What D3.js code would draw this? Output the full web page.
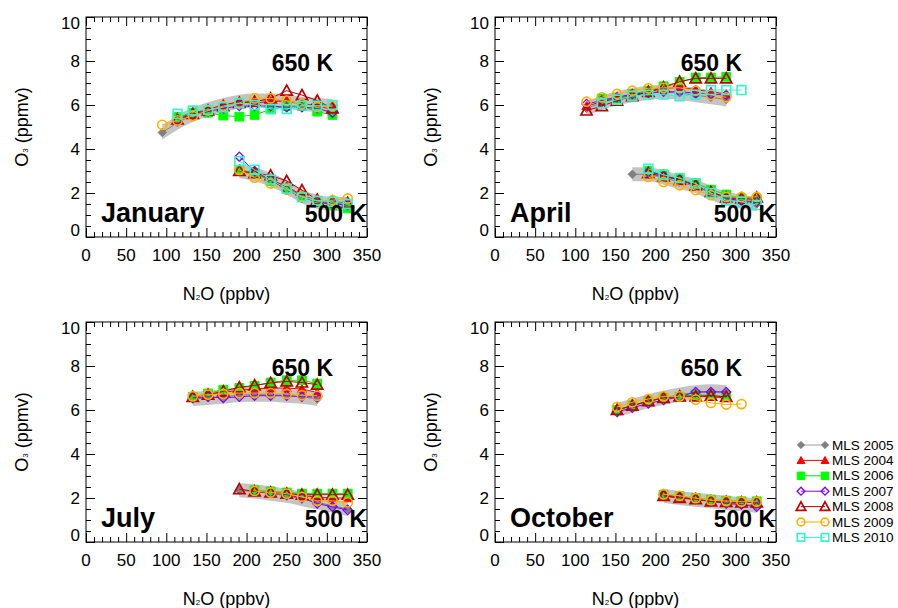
<!DOCTYPE html>
<html><head><meta charset="utf-8">
<script src="https://cdn.jsdelivr.net/npm/d3@7/dist/d3.min.js"></script>
<style>
body{margin:0;background:#fff}
svg{display:block}
text{font-family:"Liberation Sans",Arial,Helvetica,sans-serif;fill:#000}
</style>
</head><body><svg id="chart" width="898" height="608"></svg>
<script>
// ---------- data ----------
const _ = null;
const n2oBins = [95, 114, 133, 152, 171, 191, 210, 230, 250, 269, 288, 307, 326];
const seriesNames = ["MLS 2005", "MLS 2004", "MLS 2006", "MLS 2007", "MLS 2008", "MLS 2009", "MLS 2010"];
const monthNames = ["January", "April", "July", "October"];
const levelNames = ["650 K", "500 K"];
const xTickValues = [0, 50, 100, 150, 200, 250, 300, 350];
const yTickValues = [0, 2, 4, 6, 8, 10];

// rows follow seriesNames order; columns follow n2oBins
const jan650 = [
  [4.75, 5.2, 5.55, 5.8, 6.0, 6.15, 6.2, 6.2, 6.15, 6.05, 6.0, 5.95, _],
  [_, 5.4, 5.65, 5.8, 6.0, 6.15, 6.1, 6.15, 6.2, 6.05, 5.95, 5.8, _],
  [_, 5.45, 5.65, 5.65, 5.52, 5.47, 5.55, 5.8, 5.95, 5.95, 5.7, 5.55, _],
  [_, 5.3, 5.55, 5.7, 5.85, 5.95, 5.95, 5.95, 5.9, 5.9, 5.85, 5.65, _],
  [_, 5.35, 5.6, 5.75, 5.95, 6.1, 6.15, 6.3, 6.65, 6.45, 6.2, 5.85, _],
  [5.1, 5.3, 5.5, 5.75, 5.95, 6.1, 6.3, 6.3, 6.2, 6.05, 5.9, 5.95, _],
  [_, 5.6, 5.75, 5.78, 5.9, 6.08, 6.0, 5.82, 5.82, 5.97, 5.97, 6.0, _]
];
const jan500 = [
  [_, _, _, _, _, 3.0, 2.85, 2.6, 2.25, 1.85, 1.6, 1.5, 1.5],
  [_, _, _, _, _, 3.05, 2.9, 2.6, 2.3, 1.9, 1.65, 1.55, 1.45],
  [_, _, _, _, _, 3.05, 2.9, 2.55, 2.2, 1.85, 1.6, 1.45, 1.3],
  [_, _, _, _, _, 3.65, 3.0, 2.6, 2.15, 1.8, 1.6, 1.5, 1.45],
  [_, _, _, _, _, 3.0, 2.9, 2.8, 2.55, 2.13, 1.7, 1.6, 1.55],
  [_, _, _, _, _, 3.05, 2.7, 2.43, 2.15, 1.85, 1.65, 1.67, 1.75],
  [_, _, _, _, _, 3.45, 3.06, 2.61, 2.2, 1.8, 1.64, 1.6, 1.5]
];
const apr650 = [
  [_, 5.85, 6.1, 6.3, 6.45, 6.55, 6.6, 6.55, 6.45, 6.35, 6.25, _, _],
  [_, 5.95, 6.15, 6.3, 6.45, 6.6, 6.75, 6.8, 6.7, 6.6, 6.5, _, _],
  [_, _, 6.3, 6.3, 6.5, 6.65, 6.85, 7.05, 7.25, 7.25, 7.28, _, _],
  [_, 6.05, 6.2, 6.35, 6.5, 6.55, 6.6, 6.6, 6.55, 6.5, 6.45, _, _],
  [_, 5.75, 5.95, 6.2, 6.4, 6.6, 6.8, 7.06, 7.21, 7.21, 7.21, _, _],
  [_, 6.15, 6.35, 6.5, 6.65, 6.76, 6.78, 6.78, 6.65, 6.46, 6.35, _, _],
  [_, _, 6.08, 6.24, 6.4, 6.47, 6.47, 6.4, 6.47, 6.68, 6.68, 6.68, _]
];
const apr500 = [
  [_, _, _, _, 2.85, 2.85, 2.7, 2.5, 2.3, 2.0, 1.75, 1.6, 1.5],
  [_, _, _, _, _, 3.0, 2.8, 2.6, 2.35, 2.05, 1.8, 1.7, 1.7],
  [_, _, _, _, _, 3.0, 2.85, 2.65, 2.45, 2.15, 1.93, 1.75, 1.7],
  [_, _, _, _, _, 2.95, 2.8, 2.6, 2.35, 2.05, 1.75, 1.65, 1.6],
  [_, _, _, _, _, 2.9, 2.75, 2.6, 2.35, 2.05, 1.8, 1.75, 1.8],
  [_, _, _, _, _, 2.73, 2.5, 2.35, 2.13, 1.9, 1.82, 1.82, 1.82],
  [_, _, _, _, _, 3.1, 2.82, 2.68, 2.43, 2.0, 1.67, 1.6, 1.45]
];
const jul650 = [
  [_, _, 6.5, 6.55, 6.6, 6.68, 6.7, 6.7, 6.65, 6.6, 6.5, _, _],
  [_, _, 6.6, 6.7, 6.8, 6.9, 6.95, 7.0, 7.0, 6.95, 6.8, _, _],
  [_, _, 6.6, 6.75, 6.92, 7.0, 7.1, 7.25, 7.35, 7.35, 7.2, _, _],
  [_, _, 6.55, 6.6, 6.55, 6.6, 6.65, 6.65, 6.65, 6.6, 6.6, _, _],
  [_, _, 6.6, 6.7, 6.85, 7.03, 7.12, 7.23, 7.3, 7.25, 7.15, _, _],
  [_, _, 6.62, 6.7, 6.73, 6.77, 6.77, 6.77, 6.73, 6.67, 6.65, _, _],
  [_, _, _, _, _, _, _, _, _, _, _, _, _]
];
const jul500 = [
  [_, _, _, _, _, 2.35, 2.3, 2.2, 2.1, 1.95, 1.8, 1.65, 1.5],
  [_, _, _, _, _, _, 2.3, 2.25, 2.2, 2.1, 2.05, 2.0, 2.0],
  [_, _, _, _, _, _, 2.35, 2.3, 2.25, 2.2, 2.2, 2.2, 2.2],
  [_, _, _, _, _, _, 2.3, 2.25, 2.15, 2.0, 1.75, 1.6, 1.45],
  [_, _, _, _, _, 2.4, 2.3, 2.25, 2.2, 2.15, 2.15, 2.15, 2.15],
  [_, _, _, _, _, _, 2.32, 2.25, 2.2, 2.05, 1.87, 1.87, 1.8],
  [_, _, _, _, _, _, _, _, _, _, _, _, _]
];
const oct650 = [
  [_, _, _, 6.0, 6.2, 6.4, 6.55, 6.7, 6.8, 6.85, 6.8, _, _],
  [_, _, _, 6.0, 6.2, 6.4, 6.55, 6.6, 6.65, 6.6, 6.55, _, _],
  [_, _, _, 6.0, 6.2, 6.4, 6.55, 6.6, 6.7, 6.65, 6.6, _, _],
  [_, _, _, 5.91, 6.1, 6.3, 6.45, 6.6, 6.82, 6.82, 6.82, _, _],
  [_, _, _, 6.0, 6.2, 6.4, 6.55, 6.62, 6.62, 6.65, 6.6, _, _],
  [_, _, _, 6.14, 6.35, 6.5, 6.62, 6.62, 6.47, 6.32, 6.25, 6.27, _],
  [_, _, _, _, _, _, _, _, _, _, _, _, _]
];
const oct500 = [
  [_, _, _, _, _, _, 2.1, 2.0, 1.92, 1.85, 1.78, 1.72, 1.65],
  [_, _, _, _, _, _, 2.1, 2.0, 1.95, 1.85, 1.82, 1.8, 1.8],
  [_, _, _, _, _, _, 2.15, 2.08, 2.0, 1.92, 1.88, 1.85, 1.85],
  [_, _, _, _, _, _, 2.15, 2.05, 1.95, 1.85, 1.75, 1.7, 1.6],
  [_, _, _, _, _, _, 2.1, 2.0, 1.95, 1.85, 1.82, 1.8, 1.8],
  [_, _, _, _, _, _, 2.17, 2.1, 1.99, 1.9, 1.86, 1.83, 1.83],
  [_, _, _, _, _, _, _, _, _, _, _, _, _]
];

// ---------- styles ----------
const seriesStyle = [
  {shape: "diamond",  color: "#808080", line: "#a0a0a0", fill: true,  s: 4.2, sw: 1},
  {shape: "triangle", color: "#ff0000", line: "#ff0000", fill: true,  s: 4.6, sw: 1},
  {shape: "square",   color: "#00ff00", line: "#00e000", fill: true,  s: 4.4, sw: 1},
  {shape: "diamond",  color: "#8000ff", line: "#8000ff", fill: false, s: 4.6, sw: 1.3},
  {shape: "triangle", color: "#c00000", line: "#c00000", fill: false, s: 5.6, sw: 1.7},
  {shape: "circle",   color: "#ffb000", line: "#ffb000", fill: false, s: 4.6, sw: 1.6},
  {shape: "square",   color: "#33f5d0", line: "#33f5d0", fill: false, s: 4.4, sw: 1.6}
];

function markerPath(shape, s) {
  switch (shape) {
    case "diamond": return `M0,${-s}L${s},0L0,${s}L${-s},0Z`;
    case "triangle": return `M0,${-s}L${s},${s * 0.8}L${-s},${s * 0.8}Z`;
    case "square": return `M${-s},${-s}H${s}V${s}H${-s}Z`;
    default: return `M${s},0A${s},${s} 0 1 1 ${-s},0A${s},${s} 0 1 1 ${s},0Z`;
  }
}

const panelData = [
  [jan650, jan500], [apr650, apr500], [jul650, jul500], [oct650, oct500]
];
const panelBox = [
  {x0: 86, x1: 367, y0: 17, y1: 237},
  {x0: 495, x1: 776, y0: 17, y1: 237},
  {x0: 86, x1: 367, y0: 322, y1: 542},
  {x0: 495, x1: 776, y0: 322, y1: 542}
];

const svg = d3.select("#chart");

panelBox.forEach((b, pi) => {
  const x = d3.scaleLinear().domain([0, 350]).range([b.x0, b.x1]);
  const y = d3.scaleLinear().domain([0, 10]).range([b.y1, b.y0]);
  const g = svg.append("g");

  // gray band (2005 envelope) under everything
  const line = d3.line().defined(d => d[1] != null).x(d => x(d[0])).y(d => y(d[1]));
  panelData[pi].forEach(level => {
    const pts = n2oBins.map((n, i) => [n, level[0][i]]).filter(d => d[1] != null);
    const band = d3.area().curve(d3.curveMonotoneX)
      .x(d => x(d[0])).y0(d => y(d[1] - 0.32)).y1(d => y(d[1] + 0.32));
    g.append("path").attr("d", band(pts)).attr("fill", "#c4c4c4").attr("stroke", "none");
  });

  // series
  panelData[pi].forEach(level => {
    level.forEach((row, si) => {
      const st = seriesStyle[si];
      const pts = n2oBins.map((n, i) => [n, row[i]]).filter(d => d[1] != null);
      if (!pts.length) return;
      g.append("path").attr("d", line(pts)).attr("fill", "none")
        .attr("stroke", si === 0 ? "#808080" : st.line).attr("stroke-width", 1);
      g.selectAll(null).data(pts).enter().append("path")
        .attr("transform", d => `translate(${x(d[0])},${y(d[1])})`)
        .attr("d", markerPath(st.shape, st.s))
        .attr("fill", st.fill ? st.color : "none")
        .attr("stroke", st.color)
        .attr("stroke-width", st.sw);
    });
  });

  // axes (IDL style: ticks inside on all four sides)
  const bottom = d3.axisBottom(x).tickValues(xTickValues).tickSize(-9).tickFormat("");
  const top = d3.axisTop(x).tickValues(xTickValues).tickSize(-9).tickFormat("");
  const xMinor = d3.range(0, 351, 10).filter(v => v % 50 !== 0);
  const bottomMinor = d3.axisBottom(x).tickValues(xMinor).tickSize(-5).tickFormat("");
  const topMinor = d3.axisTop(x).tickValues(xMinor).tickSize(-5).tickFormat("");
  const left = d3.axisLeft(y).tickValues(yTickValues).tickSize(-9).tickFormat("");
  const right = d3.axisRight(y).tickValues(yTickValues).tickSize(-9).tickFormat("");
  const yMinor = d3.range(0, 10.01, 0.5).filter(v => v % 2 !== 0);
  const leftMinor = d3.axisLeft(y).tickValues(yMinor).tickSize(-5).tickFormat("");
  const rightMinor = d3.axisRight(y).tickValues(yMinor).tickSize(-5).tickFormat("");

  const ax = (gen, tr) => {
    const a = g.append("g").attr("transform", tr).call(gen);
    a.select(".domain").remove();
    a.selectAll("line").attr("stroke", "#000").attr("stroke-width", 1);
    return a;
  };
  ax(bottom, `translate(0,${b.y1})`); ax(bottomMinor, `translate(0,${b.y1})`);
  ax(top, `translate(0,${b.y0})`); ax(topMinor, `translate(0,${b.y0})`);
  ax(left, `translate(${b.x0},0)`); ax(leftMinor, `translate(${b.x0},0)`);
  ax(right, `translate(${b.x1},0)`); ax(rightMinor, `translate(${b.x1},0)`);

  g.append("rect").attr("x", b.x0).attr("y", b.y0)
    .attr("width", b.x1 - b.x0).attr("height", b.y1 - b.y0)
    .attr("fill", "none").attr("stroke", "#000").attr("stroke-width", 1);

  // tick labels
  g.selectAll(null).data(xTickValues).enter().append("text")
    .attr("x", d => x(d)).attr("y", b.y1 + 24)
    .attr("text-anchor", "middle").attr("font-size", 17).text(d => d);
  g.selectAll(null).data(yTickValues).enter().append("text")
    .attr("x", b.x0 - 6)
    .attr("y", d => y(d) + 6 + (d === 10 ? 6 : d === 0 ? -7 : 0))
    .attr("text-anchor", "end").attr("font-size", 17).text(d => d);

  // axis titles
  const xt = g.append("text").attr("x", (b.x0 + b.x1) / 2).attr("y", b.y1 + 63)
    .attr("text-anchor", "middle").attr("font-size", 18);
  xt.append("tspan").text("N");
  xt.append("tspan").attr("font-size", 8).text("2");
  xt.append("tspan").text("O (ppbv)");

  const cy = (b.y0 + b.y1) / 2;
  const yt = g.append("text").attr("transform", `translate(${b.x0 - 58},${cy}) rotate(-90)`)
    .attr("text-anchor", "middle").attr("font-size", 18);
  yt.append("tspan").text("O");
  yt.append("tspan").attr("font-size", 8).text("3");
  yt.append("tspan").text(" (ppmv)");

  // in-panel labels
  g.append("text").attr("x", b.x1 - 34).attr("y", b.y0 + 54)
    .attr("text-anchor", "end").attr("font-size", 23).attr("font-weight", "bold").text(levelNames[0]);
  g.append("text").attr("x", b.x1 - 1).attr("y", b.y1 - 15)
    .attr("text-anchor", "end").attr("font-size", 23).attr("font-weight", "bold").text(levelNames[1]);
  g.append("text").attr("x", b.x0 + 15).attr("y", b.y1 - 15)
    .attr("font-size", 27).attr("font-weight", "bold").text(monthNames[pi]);
});

// legend
const lg = svg.append("g");
seriesNames.forEach((name, i) => {
  const st = seriesStyle[i];
  const yy = 445 + i * 15.4;
  lg.append("line").attr("x1", 801).attr("x2", 825).attr("y1", yy).attr("y2", yy)
    .attr("stroke", st.line).attr("stroke-width", 1);
  [801, 825].forEach(xx => {
    lg.append("path").attr("transform", `translate(${xx},${yy})`)
      .attr("d", markerPath(st.shape, st.s * 0.85))
      .attr("fill", st.fill ? st.color : "none").attr("stroke", st.color)
      .attr("stroke-width", st.sw);
  });
  lg.append("text").attr("x", 832).attr("y", yy + 4.5).attr("font-size", 13.5).text(name);
});
</script>
</body></html>
